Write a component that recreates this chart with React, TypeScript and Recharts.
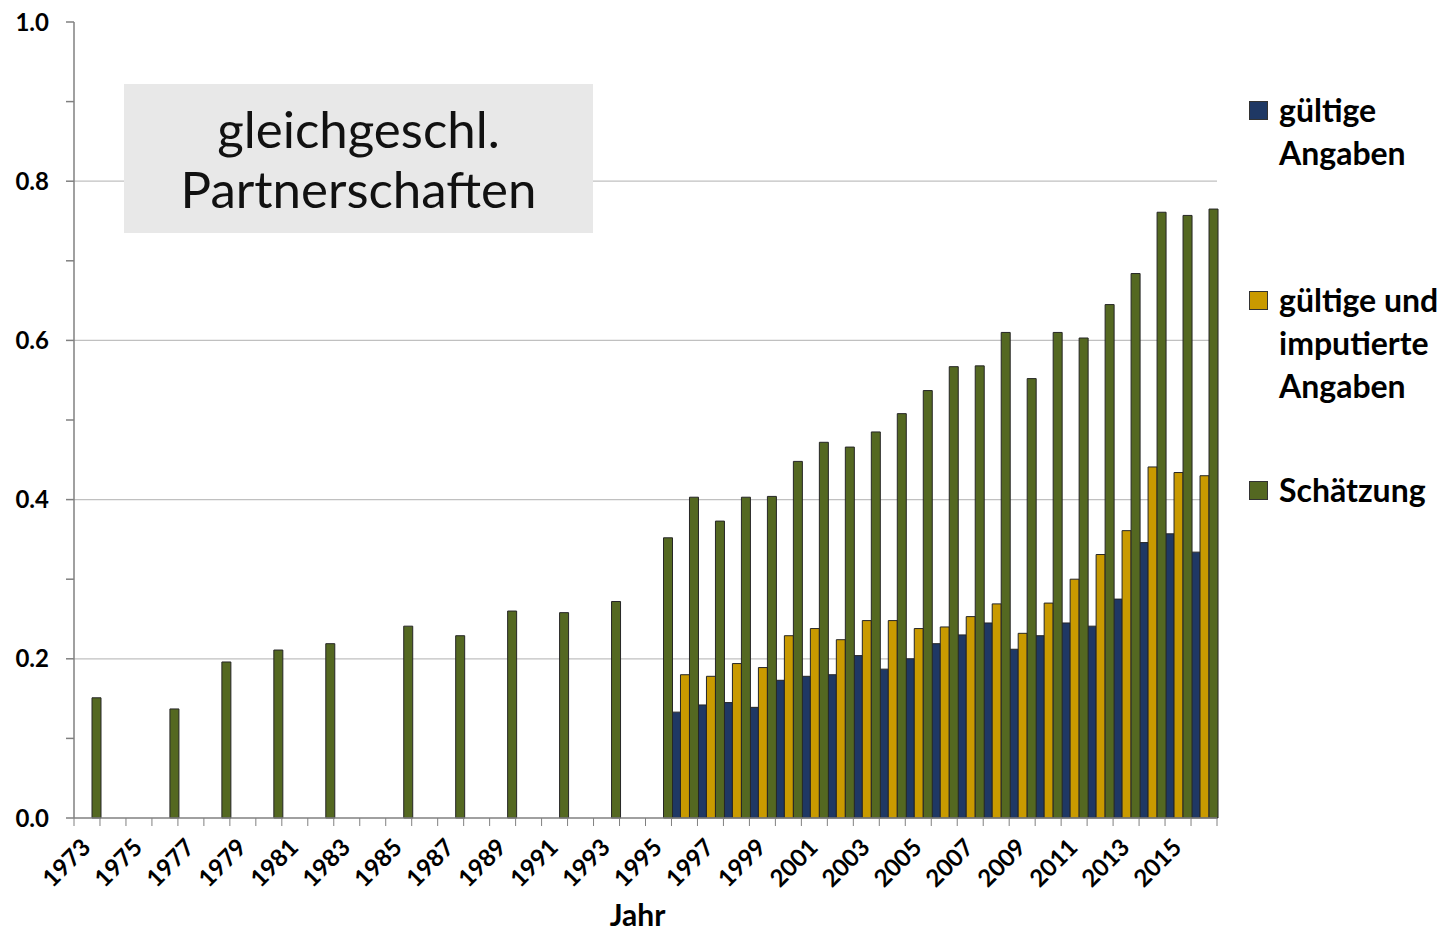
import React from "react";
import {
  BarChart,
  Bar,
  XAxis,
  YAxis,
  CartesianGrid,
  Legend,
} from "recharts";

// Jahre 1973–2016
const years = [
  "1973", "1974", "1975", "1976", "1977", "1978", "1979", "1980", "1981", "1982",
  "1983", "1984", "1985", "1986", "1987", "1988", "1989", "1990", "1991", "1992",
  "1993", "1994", "1995", "1996", "1997", "1998", "1999", "2000", "2001", "2002",
  "2003", "2004", "2005", "2006", "2007", "2008", "2009", "2010", "2011", "2012",
  "2013", "2014", "2015", "2016",
];

// gültige Angaben (ab 1996)
const gueltig = [
  null, null, null, null, null, null, null, null, null, null,
  null, null, null, null, null, null, null, null, null, null,
  null, null, null, 0.133, 0.142, 0.145, 0.139, 0.173, 0.178, 0.18,
  0.204, 0.187, 0.2, 0.219, 0.23, 0.245, 0.212, 0.229, 0.245, 0.241,
  0.275, 0.346, 0.357, 0.334,
];

// gültige und imputierte Angaben (ab 1996)
const imputiert = [
  null, null, null, null, null, null, null, null, null, null,
  null, null, null, null, null, null, null, null, null, null,
  null, null, null, 0.18, 0.178, 0.194, 0.189, 0.229, 0.238, 0.224,
  0.248, 0.248, 0.238, 0.24, 0.253, 0.269, 0.232, 0.27, 0.3, 0.331,
  0.361, 0.441, 0.434, 0.43,
];

// Schätzung
const schaetzung = [
  0.151, null, null, 0.137, null, 0.196, null, 0.211, null, 0.219,
  null, null, 0.241, null, 0.229, null, 0.26, null, 0.258, null,
  0.272, null, 0.352, 0.403, 0.373, 0.403, 0.404, 0.448, 0.472, 0.466,
  0.485, 0.508, 0.537, 0.567, 0.568, 0.61, 0.552, 0.61, 0.603, 0.645,
  0.684, 0.761, 0.757, 0.765,
];

const yTicks = [0, 0.1, 0.2, 0.3, 0.4, 0.5, 0.6, 0.7, 0.8, 0.9, 1.0];
const gridValues = [0.2, 0.4, 0.6, 0.8];

const series = [
  { key: "gueltig", name: "gültige Angaben", lines: ["gültige", "Angaben"], color: "#1f3864", gap: 104 },
  { key: "imputiert", name: "gültige und imputierte Angaben", lines: ["gültige und", "imputierte", "Angaben"], color: "#c99a00", gap: 61 },
  { key: "schaetzung", name: "Schätzung", lines: ["Schätzung"], color: "#546821", gap: 0 },
];

const data = years.map((year, i) => ({
  year,
  gueltig: gueltig[i],
  imputiert: imputiert[i],
  schaetzung: schaetzung[i],
}));

const W = 1449;
const H = 933;
const MARGIN = { top: 22, right: 232, bottom: 0, left: 0 };
const Y_WIDTH = 74;
const X_HEIGHT = 115;
const PLOT_W = W - MARGIN.left - MARGIN.right - Y_WIDTH;
const HALF_BAND = PLOT_W / years.length / 2;
const AXIS = "#808080";
const FONT = "Lato, 'Open Sans', sans-serif";

function YearTick({ x, y, payload, index }: any) {
  const last = index === years.length - 1;
  const lx = x + 5;
  const ly = y + 31;
  return (
    <g>
      <line x1={x - HALF_BAND} x2={x - HALF_BAND} y1={y} y2={y + 8} stroke={AXIS} strokeWidth={1} />
      {last && <line x1={x + HALF_BAND} x2={x + HALF_BAND} y1={y} y2={y + 8} stroke={AXIS} strokeWidth={1} />}
      {index % 2 === 0 && (
        <text
          x={lx}
          y={ly}
          textAnchor="end"
          transform={`rotate(-45, ${lx}, ${ly})`}
          style={{ fontFamily: FONT, fontWeight: 700, fontSize: 24, fill: "#000" }}
        >
          {payload.value}
        </text>
      )}
    </g>
  );
}

function SideLegend() {
  return (
    <div style={{ fontFamily: FONT, fontWeight: 700, fontSize: 32, lineHeight: "43px", color: "#000" }}>
      {series.map((s) => (
        <div key={s.key} style={{ display: "flex", alignItems: "flex-start", marginBottom: s.gap }}>
          <span
            style={{
              width: 17,
              height: 17,
              marginTop: 13,
              marginRight: 11,
              background: s.color,
              border: "1px solid #333",
              flex: "none",
            }}
          />
          <div>
            {s.lines.map((l) => (
              <div key={l}>{l}</div>
            ))}
          </div>
        </div>
      ))}
    </div>
  );
}

export default function App() {
  return (
    <div style={{ position: "absolute", left: 0, top: 0, width: W, height: H, background: "#fff" }}>
      <BarChart
        width={W}
        height={H}
        data={data}
        margin={MARGIN}
        barCategoryGap={0}
        barGap={0}
      >
        <CartesianGrid
          vertical={false}
          horizontalValues={gridValues}
          stroke="#c0c0c0"
          strokeWidth={1.2}
        />
        <XAxis
          dataKey="year"
          interval={0}
          height={X_HEIGHT}
          tickLine={false}
          tickSize={0}
          tickMargin={0}
          stroke={AXIS}
          strokeWidth={1.5}
          tick={<YearTick />}
          label={{
            value: "Jahr",
            position: "insideBottom",
            offset: 7,
            dx: -8,
            style: { fontFamily: FONT, fontWeight: 700, fontSize: 30, fill: "#000" },
          }}
        />
        <XAxis xAxisId="top" orientation="top" dataKey="year" height={0} tick={false} tickLine={false} stroke={AXIS} strokeWidth={1.5} />
        <YAxis
          domain={[0, 1]}
          ticks={yTicks}
          width={Y_WIDTH}
          tickSize={8}
          tickMargin={17}
          stroke={AXIS}
          strokeWidth={1.5}
          tickFormatter={(v: number) => (Math.round(v * 10) % 2 === 0 ? v.toFixed(1) : "")}
          tick={{ fontFamily: FONT, fontWeight: 700, fontSize: 24, fill: "#000" }}
        />
        <YAxis yAxisId="right" orientation="right" width={0} tick={false} tickLine={false} stroke={AXIS} strokeWidth={1.5} />
        <Legend
          layout="vertical"
          align="center"
          verticalAlign="middle"
          content={<SideLegend />}
          wrapperStyle={{ left: 1249, top: 88, width: 200, height: "auto" }}
        />
        {series.map((s) => (
          <Bar
            key={s.key}
            dataKey={s.key}
            name={s.name}
            fill={s.color}
            stroke="#262626"
            strokeWidth={1}
            isAnimationActive={false}
          />
        ))}
      </BarChart>
      <div
        style={{
          position: "absolute",
          left: 124,
          top: 84,
          width: 469,
          height: 149,
          background: "#e8e8e8",
          display: "flex",
          flexDirection: "column",
          alignItems: "center",
          justifyContent: "center",
          fontFamily: FONT,
          fontSize: 51,
          lineHeight: "60px",
          color: "#111",
        }}
      >
        <div>gleichgeschl.</div>
        <div>Partnerschaften</div>
      </div>
    </div>
  );
}
